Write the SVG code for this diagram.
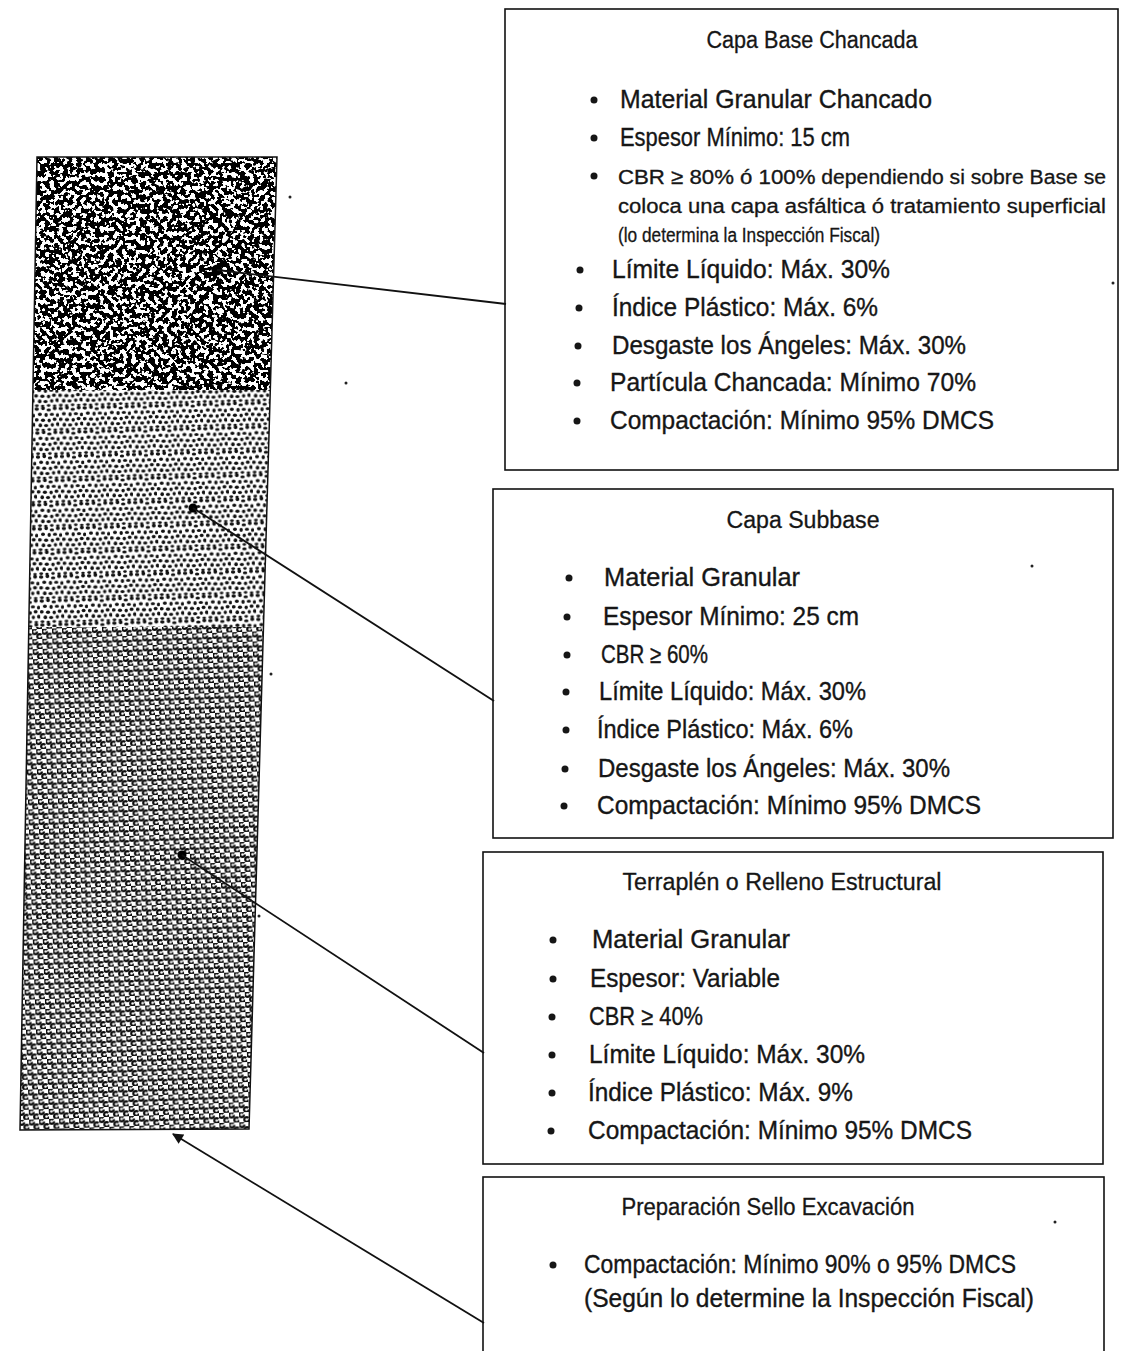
<svg xmlns="http://www.w3.org/2000/svg" width="1125" height="1351" viewBox="0 0 1125 1351">
<style>
.box{fill:none;stroke:#111;stroke-width:1.6}
.t{font-family:"Liberation Sans",Arial,sans-serif;font-size:25px;fill:#161616;stroke:#161616;stroke-width:0.35}
.s{font-family:"Liberation Sans",Arial,sans-serif;font-size:20px;fill:#161616;stroke:#161616;stroke-width:0.3}
.h{font-family:"Liberation Sans",Arial,sans-serif;font-size:23px;fill:#161616;stroke:#161616;stroke-width:0.3;text-anchor:middle}
.b{fill:#161616}
.conn{stroke:#111;stroke-width:1.8;fill:none}
.spk{fill:#222}
.d{fill:#111}
</style>
<defs>
<filter id="fTop" color-interpolation-filters="sRGB" x="0" y="0" width="1" height="1">
<feTurbulence type="fractalNoise" baseFrequency="0.22" numOctaves="2" seed="7" result="n"/>
<feColorMatrix in="n" type="matrix" values="0 0 0 0 0  0 0 0 0 0  0 0 0 0 0  1 0 0 0 0"/>
<feComponentTransfer><feFuncA type="linear" slope="40" intercept="-18.6"/></feComponentTransfer>
<feComposite operator="in" in2="SourceGraphic"/>
</filter>
<pattern id="pDot" width="24" height="24" patternUnits="userSpaceOnUse" patternTransform="rotate(-1.5)">
<rect width="24" height="24" fill="#fff"/>
<g class="d">
<ellipse cx="2" cy="2" rx="2.2" ry="1.7"/>
<ellipse cx="8.3" cy="1.2" rx="1.8" ry="2"/>
<ellipse cx="14" cy="3" rx="2.2" ry="1.6"/>
<ellipse cx="20" cy="1.6" rx="1.9" ry="1.9"/>
<ellipse cx="5" cy="7.2" rx="2" ry="1.7"/>
<ellipse cx="11.2" cy="8" rx="1.7" ry="2.1"/>
<ellipse cx="17" cy="7.5" rx="2.1" ry="1.6"/>
<ellipse cx="22.6" cy="8.4" rx="1.6" ry="1.9"/>
<ellipse cx="1.8" cy="12.7" rx="1.9" ry="1.8"/>
<ellipse cx="8" cy="13.2" rx="2.1" ry="1.7"/>
<ellipse cx="14.2" cy="13.6" rx="1.7" ry="1.9"/>
<ellipse cx="19.6" cy="12.5" rx="2" ry="1.7"/>
<ellipse cx="5.2" cy="18.2" rx="1.8" ry="2"/>
<ellipse cx="11" cy="18.6" rx="2.1" ry="1.6"/>
<ellipse cx="17.2" cy="18.1" rx="1.7" ry="1.8"/>
<ellipse cx="22.6" cy="17.6" rx="1.7" ry="2"/>
<ellipse cx="2.2" cy="22.6" rx="1.9" ry="1.3"/>
<ellipse cx="8" cy="23" rx="1.7" ry="1.2"/>
<ellipse cx="14" cy="22.6" rx="1.8" ry="1.3"/>
<ellipse cx="20" cy="22.9" rx="1.8" ry="1.1"/>
</g>
</pattern>
<pattern id="pRing" width="10" height="10" patternUnits="userSpaceOnUse" patternTransform="rotate(-2)">
<rect width="10" height="10" fill="#fff"/>
<circle cx="2.5" cy="2.5" r="2.4" fill="none" stroke="#0a0a0a" stroke-width="2.2" stroke-dasharray="12 3"/>
<circle cx="7.5" cy="7.5" r="2.4" fill="none" stroke="#0a0a0a" stroke-width="2.2" stroke-dasharray="12 3"/>
</pattern>
<marker id="arr" viewBox="0 0 10 10" refX="9" refY="5" markerWidth="13" markerHeight="11" markerUnits="userSpaceOnUse" orient="auto">
<path d="M0,0 L10,5 L0,10 z" fill="#111"/>
</marker>
</defs>
<rect width="1125" height="1351" fill="#fff"/>

<g id="column">
<polygon points="37,157 277,157 270.3,390 32.9,390" fill="#fff"/>
<polygon points="37,157 277,157 270.3,390 32.9,390" fill="#000" filter="url(#fTop)"/>
<polygon points="32.9,390 270.3,390 263.5,627 28.8,627" fill="url(#pDot)"/>
<polygon points="28.8,627 263.5,627 249,1129 20,1130" fill="url(#pRing)"/>
<polygon points="37,157 277,157 249,1129 20,1130" fill="none" stroke="#111" stroke-width="1.5"/>
<circle cx="217" cy="270" r="5.5" fill="#000"/>
<circle cx="193" cy="508" r="4.5" fill="#000"/>
<circle cx="182" cy="855" r="4.5" fill="#000"/>
</g>

<g id="connectors">
<line class="conn" x1="217" y1="270" x2="506" y2="304"/>
<line class="conn" x1="193" y1="508" x2="494" y2="701"/>
<line class="conn" x1="182" y1="855" x2="484" y2="1053"/>
<line class="conn" x1="484" y1="1323" x2="173" y2="1134" marker-end="url(#arr)"/>
</g>

<g id="box-base">
<rect class="box" x="505" y="9" width="613" height="461"/>
<text class="h" x="812" y="48" textLength="211" lengthAdjust="spacingAndGlyphs">Capa Base Chancada</text>
<circle class="b" cx="594" cy="100" r="3.5"/>
<text class="t" x="620" y="108" textLength="312" lengthAdjust="spacingAndGlyphs">Material Granular Chancado</text>
<circle class="b" cx="594" cy="138" r="3.5"/>
<text class="t" x="620" y="146" textLength="230" lengthAdjust="spacingAndGlyphs">Espesor Mínimo: 15 cm</text>
<circle class="b" cx="594" cy="176" r="3.5"/>
<text class="s" x="618" y="184" textLength="488" lengthAdjust="spacingAndGlyphs"><tspan style="font-size:21px;stroke-width:0.35">CBR ≥ 80% ó 100%</tspan> dependiendo si sobre Base se</text>
<text class="s" x="618" y="213" textLength="488" lengthAdjust="spacingAndGlyphs">coloca una capa asfáltica ó  tratamiento superficial</text>
<text class="s" x="618" y="242" textLength="262" lengthAdjust="spacingAndGlyphs">(lo determina la Inspección Fiscal)</text>
<circle class="b" cx="580" cy="270" r="3.5"/>
<text class="t" x="612" y="278" textLength="278" lengthAdjust="spacingAndGlyphs">Límite Líquido: Máx. 30%</text>
<circle class="b" cx="579" cy="308" r="3.5"/>
<text class="t" x="612" y="316" textLength="266" lengthAdjust="spacingAndGlyphs">Índice Plástico: Máx. 6%</text>
<circle class="b" cx="578" cy="346" r="3.5"/>
<text class="t" x="612" y="354" textLength="354" lengthAdjust="spacingAndGlyphs">Desgaste los Ángeles: Máx. 30%</text>
<circle class="b" cx="577" cy="383" r="3.5"/>
<text class="t" x="610" y="391" textLength="366" lengthAdjust="spacingAndGlyphs">Partícula Chancada: Mínimo 70%</text>
<circle class="b" cx="577" cy="421" r="3.5"/>
<text class="t" x="610" y="429" textLength="384" lengthAdjust="spacingAndGlyphs">Compactación: Mínimo 95% DMCS</text>
</g>

<g id="box-subbase">
<rect class="box" x="493" y="489" width="620" height="349"/>
<text class="h" x="803" y="528" textLength="153" lengthAdjust="spacingAndGlyphs">Capa Subbase</text>
<circle class="b" cx="569" cy="578" r="3.5"/>
<text class="t" x="604" y="586" textLength="196" lengthAdjust="spacingAndGlyphs">Material Granular</text>
<circle class="b" cx="567" cy="617" r="3.5"/>
<text class="t" x="603" y="625" textLength="256" lengthAdjust="spacingAndGlyphs">Espesor Mínimo: 25 cm</text>
<circle class="b" cx="567" cy="655" r="3.5"/>
<text class="t" x="601" y="663" textLength="107" lengthAdjust="spacingAndGlyphs">CBR ≥ 60%</text>
<circle class="b" cx="566" cy="692" r="3.5"/>
<text class="t" x="599" y="700" textLength="267" lengthAdjust="spacingAndGlyphs">Límite Líquido: Máx. 30%</text>
<circle class="b" cx="566" cy="730" r="3.5"/>
<text class="t" x="597" y="738" textLength="256" lengthAdjust="spacingAndGlyphs">Índice Plástico: Máx. 6%</text>
<circle class="b" cx="565" cy="769" r="3.5"/>
<text class="t" x="598" y="777" textLength="352" lengthAdjust="spacingAndGlyphs">Desgaste los Ángeles: Máx. 30%</text>
<circle class="b" cx="564" cy="806" r="3.5"/>
<text class="t" x="597" y="814" textLength="384" lengthAdjust="spacingAndGlyphs">Compactación: Mínimo 95% DMCS</text>
</g>

<g id="box-terraplen">
<rect class="box" x="483" y="852" width="620" height="312"/>
<text class="h" x="782" y="890" textLength="319" lengthAdjust="spacingAndGlyphs">Terraplén o Relleno Estructural</text>
<circle class="b" cx="553" cy="940" r="3.5"/>
<text class="t" x="592" y="948" textLength="198" lengthAdjust="spacingAndGlyphs">Material Granular</text>
<circle class="b" cx="553" cy="979" r="3.5"/>
<text class="t" x="590" y="987" textLength="190" lengthAdjust="spacingAndGlyphs">Espesor: Variable</text>
<circle class="b" cx="552" cy="1017" r="3.5"/>
<text class="t" x="589" y="1025" textLength="114" lengthAdjust="spacingAndGlyphs">CBR ≥ 40%</text>
<circle class="b" cx="552" cy="1055" r="3.5"/>
<text class="t" x="589" y="1063" textLength="276" lengthAdjust="spacingAndGlyphs">Límite Líquido: Máx. 30%</text>
<circle class="b" cx="552" cy="1093" r="3.5"/>
<text class="t" x="588" y="1101" textLength="265" lengthAdjust="spacingAndGlyphs">Índice Plástico: Máx. 9%</text>
<circle class="b" cx="551" cy="1131" r="3.5"/>
<text class="t" x="588" y="1139" textLength="384" lengthAdjust="spacingAndGlyphs">Compactación: Mínimo 95% DMCS</text>
</g>

<g id="box-sello">
<rect class="box" x="483" y="1177" width="621" height="200"/>
<text class="h" x="768" y="1215" textLength="293" lengthAdjust="spacingAndGlyphs">Preparación Sello Excavación</text>
<circle class="b" cx="553" cy="1265" r="3.5"/>
<text class="t" x="584" y="1273" textLength="432" lengthAdjust="spacingAndGlyphs">Compactación: Mínimo 90% o 95% DMCS</text>
<text class="t" x="584" y="1307" textLength="450" lengthAdjust="spacingAndGlyphs">(Según lo determine la Inspección Fiscal)</text>
</g>

<g id="specks">
<circle class="spk" cx="290" cy="197" r="1.5"/>
<circle class="spk" cx="346" cy="383" r="1.5"/>
<circle class="spk" cx="271" cy="674" r="1.5"/>
<circle class="spk" cx="1113" cy="283" r="1.5"/>
<circle class="spk" cx="1032" cy="566" r="1.5"/>
<circle class="spk" cx="1055" cy="1222" r="1.5"/>
<circle class="spk" cx="259" cy="916" r="1.5"/>
</g>
</svg>
